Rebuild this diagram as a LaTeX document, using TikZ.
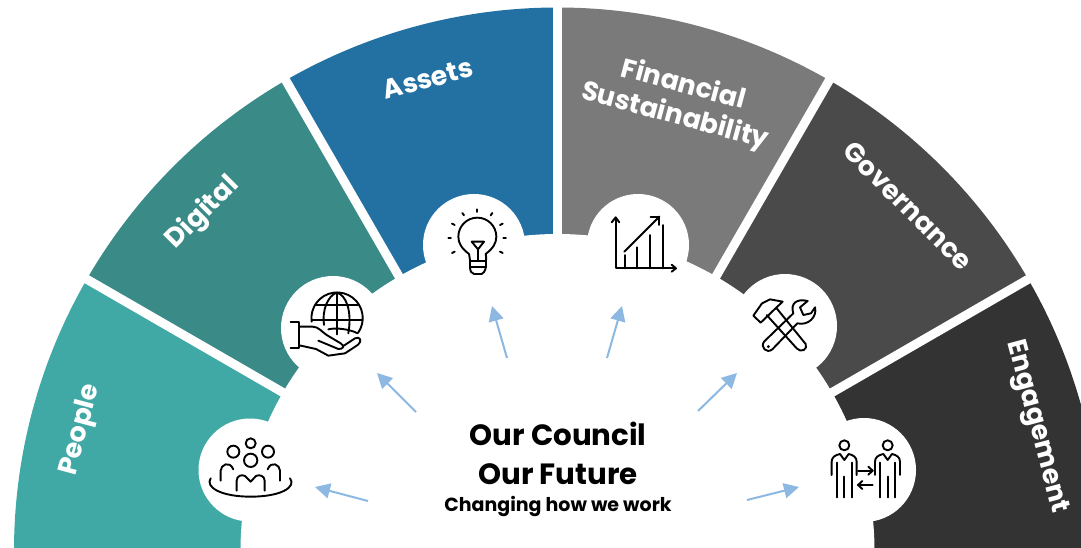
\documentclass[tikz,border=0pt]{standalone}
\usepackage{fontspec}
\setmainfont{Poppins}
\usetikzlibrary{arrows.meta}
\definecolor{cPeople}{HTML}{41A9A5}
\definecolor{cDigital}{HTML}{3A8A87}
\definecolor{cAssets}{HTML}{2370A3}
\definecolor{cFin}{HTML}{7A7A7A}
\definecolor{cGov}{HTML}{4A4A4A}
\definecolor{cEng}{HTML}{333333}
\definecolor{cArrow}{HTML}{8DB8E2}
\tikzset{
  gap/.style={white,line width=9pt},
  bubble/.style={fill=white},
  seglabel/.style={white,font=\fontsize{26.8}{32}\selectfont\bfseries,align=center,inner sep=0pt},
  icon/.style={black,line width=1.9pt,line cap=round,line join=round},
  flow/.style={cArrow,line width=2pt,-{Triangle[length=15pt,width=15pt]}},
}
\begin{document}
\begin{tikzpicture}[x=1pt,y=1pt]
\useasboundingbox (0,0) rectangle (1081,547);
\clip (0,0) rectangle (1081,547);
\coordinate (O) at (557.5,-4);
% sectors
\def\R{543.5}
\foreach \a/\b/\c in {190/150/cPeople,150/120/cDigital,120/90/cAssets,90/60/cFin,60/30/cGov,30/-10/cEng}{
  \fill[\c] (O) -- ++(\a:\R) arc[start angle=\a,end angle=\b,radius=\R] -- cycle;
}
\foreach \a in {150,120,90,60,30}{ \draw[gap] (O) -- ++(\a:600); }
\fill[white] (O) circle[radius=317];
% bubbles
\fill[bubble] (250,77) circle[radius=51.5];
\fill[bubble] (333,219) circle[radius=52];
\fill[bubble] (474,302) circle[radius=51];
\fill[bubble] (638,302) circle[radius=51];
\fill[bubble] (785,221) circle[radius=52];
\fill[bubble] (864,77) circle[radius=52];
% labels
\node[seglabel,rotate=75] (lPeople) at (81,117) {People};
\node[seglabel,rotate=45] (lDigital) at (203,334) {Digital};
\node[seglabel,rotate=15] (lAssets) at (428,468) {Assets};
\node[seglabel,rotate=-15] (lFin) at (679,446) {Financial\\Sustainability};
\node[seglabel,rotate=-45] (lGov) at (908,341) {Governance};
\node[seglabel,rotate=-75] (lEng) at (1036,120) {Engagement};
\node[font=\fontsize{29.3}{39}\selectfont\bfseries,align=center,inner sep=0pt] (title) at (558,94) {Our Council\\Our Future};
\node[font=\fontsize{19}{22}\selectfont\bfseries,inner sep=0pt] (sub) at (558,41) {Changing how we work};
% arrows
\coordinate (t1) at (368,46); \coordinate (h1) at (315,60);
\coordinate (t2) at (416,135); \coordinate (h2) at (377,174);
\coordinate (t3) at (507,189); \coordinate (h3) at (492,241);
\coordinate (t4) at (607,189); \coordinate (h4) at (622,241);
\coordinate (t5) at (698,136); \coordinate (h5) at (737,174);
\coordinate (t6) at (747,47); \coordinate (h6) at (799,60);
\foreach \i in {1,...,6}{ \draw[flow] (t\i) -- (h\i); }
% icons people + hand
\begin{scope}[shift={(190,277)},xscale=1/3,yscale=-1/3,icon]
  \draw (182,520) circle[radius=15];
  \draw (130,545) circle[radius=18];
  \draw (234,545) circle[radius=18];
  \draw (182,571) circle[radius=20];
  \draw (92,632) -- (92,602) .. controls (92,585) and (118,570) .. (130,598);
  \draw (270,632) -- (270,602) .. controls (270,585) and (244,570) .. (233,598);
  \draw (140,662) -- (140,632) .. controls (140,618) and (155,612) .. (165,618) -- (182,635) -- (198,618) .. controls (208,612) and (224,618) .. (224,632) -- (224,662);
  \draw (62,625) .. controls (45,650) and (90,680) .. (182,680) .. controls (275,680) and (320,650) .. (300,625);
  % globe
  \draw (365,155) arc[start angle=172,end angle=395,radius=77];
  \draw (441,68) -- (441,193);
  \draw (402,165) .. controls (395,120) and (415,75) .. (441,68) .. controls (467,75) and (487,120) .. (475,190);
  \draw (376,104) -- (506,104);
  \draw (366,150) -- (517,150);
  \draw (415,178) .. controls (440,172) and (480,178) .. (503,190);
  % hand
  \draw (302,155) -- (328,155) -- (328,235) -- (302,235);
  \draw (328,170) -- (368,170) .. controls (385,170) and (395,185) .. (410,195) -- (452,220) .. controls (465,228) and (460,238) .. (445,237) -- (385,212);
  \draw (460,228) -- (495,205) .. controls (510,198) and (518,212) .. (503,225) -- (465,250) -- (415,257) -- (378,237) -- (328,226);
\end{scope}
% bulb + chart
\begin{scope}[shift={(420,357)},xscale=1/3,yscale=-1/3,icon]
  \draw (147,192) .. controls (125,175) and (115,160) .. (115,140) arc[start angle=180,end angle=360,radius=57] .. controls (229,160) and (219,175) .. (197,192) .. controls (200,200) and (198,205) .. (198,212) -- (198,230) .. controls (195,245) and (190,250) .. (185,252) -- (162,252) .. controls (155,250) and (150,245) .. (150,230) -- (150,212) .. controls (150,205) and (148,200) .. (147,192);
  \draw (150,212) -- (198,212);
  \draw (150,230) -- (198,230);
  \draw (155,155) -- (192,155) -- (174,178) -- cycle;
  \draw (174,178) -- (174,212);
  \draw (85,145) -- (93,145);
  \draw (250,145) -- (258,145);
  \draw (96,101) -- (104,105);
  \draw (248,101) -- (240,105);
  \draw (127,69) -- (132,76);
  \draw (217,69) -- (212,76);
  \draw (172,58) -- (172,66);
  \draw (96,189) -- (104,185);
  \draw (248,189) -- (240,185);
  % chart
  \draw (587,85) -- (587,235) -- (765,235);
  \draw (575,97) -- (587,82) -- (598,97);
  \draw (755,224) -- (768,235) -- (755,245);
  \draw (614,195) -- (614,235);
  \draw (652,172) -- (652,235);
  \draw (691,135) -- (691,235);
  \draw (729,105) -- (729,235);
  \draw (613,185) -- (718,80);
  \draw (692,80) -- (718,80) -- (718,105);
\end{scope}
% tools + exchange
\begin{scope}[shift={(740,277)},xscale=1/3,yscale=-1/3,icon]
  \draw (40,137) -- (62,158) -- (112,110) -- (128,95) -- (90,88) -- (66,100) -- cycle;
  \draw (80,135) -- (170,235) .. controls (182,250) and (205,238) .. (197,222) -- (110,115);
  \draw (72,215) -- (160,130) .. controls (150,100) and (170,85) .. (203,93) -- (180,112) -- (190,135) -- (213,130) -- (225,112) .. controls (232,140) and (205,168) .. (172,160) -- (97,238) .. controls (80,252) and (60,232) .. (72,215);
  \fill (85,230) circle[radius=5];
  % exchange
  \foreach \dx in {0,130}{
    \begin{scope}[xshift=\dx]
      \draw (313,526) circle[radius=15];
      \draw (275,615) -- (275,575) .. controls (275,562) and (285,555) .. (300,552) -- (313,570) -- (326,552) .. controls (340,555) and (350,562) .. (350,575) -- (350,615);
      \draw (290,682) -- (290,578);
      \draw (335,682) -- (335,578);
      \draw (313,682) -- (313,620);
    \end{scope}
  }
  \draw (354,602) -- (398,602);
  \draw (385,590) -- (398,602) -- (385,614);
  \draw (398,645) -- (354,645);
  \draw (367,633) -- (354,645) -- (367,657);
\end{scope}
\end{tikzpicture}
\end{document}
